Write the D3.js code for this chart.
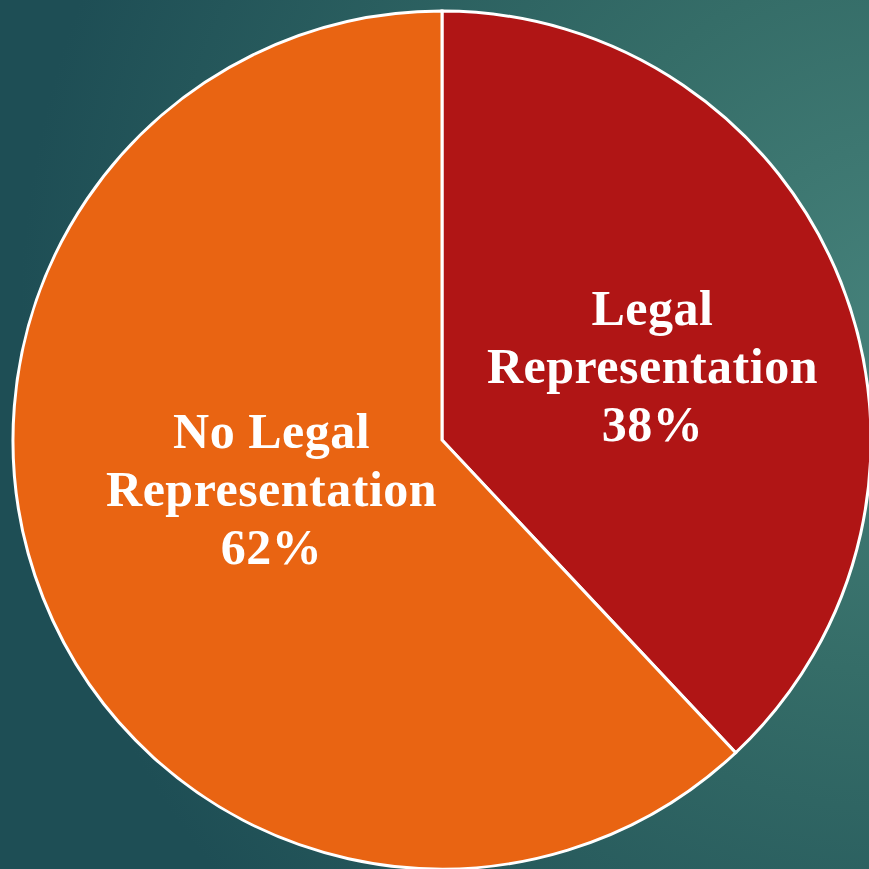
<!DOCTYPE html>
<html>
<head>
  <meta charset="utf-8">
  <title>Legal Representation Pie</title>
  <script src="https://d3js.org/d3.v7.min.js"></script>
  <style>
    html, body { margin: 0; padding: 0; overflow: hidden; }
  </style>
</head>
<body>
  <div id="chart"></div>

  <script>
    // Data
    const categories = ["Legal Representation", "No Legal Representation"];
    const values = [38, 62];
    const labelLines = [["Legal", "Representation", "38%"], ["No Legal", "Representation", "62%"]];
    const colors = ["#B01515", "#E96412"];

    const width = 869, height = 869;
    const cx = 442, cy = 440, radius = 429;

    const svg = d3.select("#chart")
      .append("svg")
      .attr("width", width)
      .attr("height", height);

    // Background gradient
    const defs = svg.append("defs");
    const grad = defs.append("radialGradient")
      .attr("id", "bg")
      .attr("gradientUnits", "userSpaceOnUse")
      .attr("cx", 900).attr("cy", 320).attr("r", 880);
    grad.append("stop").attr("offset", "0%").attr("stop-color", "#45817a");
    grad.append("stop").attr("offset", "40%").attr("stop-color", "#356d68");
    grad.append("stop").attr("offset", "100%").attr("stop-color", "#1e4e55");

    svg.append("rect")
      .attr("width", width)
      .attr("height", height)
      .attr("fill", "url(#bg)");

    const g = svg.append("g")
      .attr("transform", "translate(" + cx + "," + cy + ")");

    const pie = d3.pie().sort(null).value(d => d);
    const arcs = pie(values);

    const arc = d3.arc().innerRadius(0).outerRadius(radius);

    g.selectAll("path")
      .data(arcs)
      .enter()
      .append("path")
      .attr("d", arc)
      .attr("fill", (d, i) => colors[i])
      .attr("stroke", "#ffffff")
      .attr("stroke-width", 3)
      .attr("stroke-linejoin", "miter");

    // Labels: centroid at half radius, nudged like the office chart does
    const labelArc = d3.arc().innerRadius(radius * 0.5).outerRadius(radius * 0.5);
    const nudge = [[11, 22], [29, -13]];
    const lineHeight = 58;

    arcs.forEach((d, i) => {
      const c = labelArc.centroid(d);
      const x0 = c[0] + nudge[i][0];
      const y0 = c[1] + nudge[i][1];
      const text = g.append("text")
        .attr("text-anchor", "middle")
        .attr("fill", "#ffffff")
        .attr("font-family", "'Liberation Serif', 'DejaVu Serif', serif")
        .attr("font-weight", "bold")
        .attr("font-size", 50)
        .attr("letter-spacing", 0.5);
      labelLines[i].forEach((line, k) => {
        text.append("tspan")
          .attr("x", x0)
          .attr("y", y0 + (k - 1) * lineHeight)
          .text(line);
      });
    });
  </script>
</body>
</html>
